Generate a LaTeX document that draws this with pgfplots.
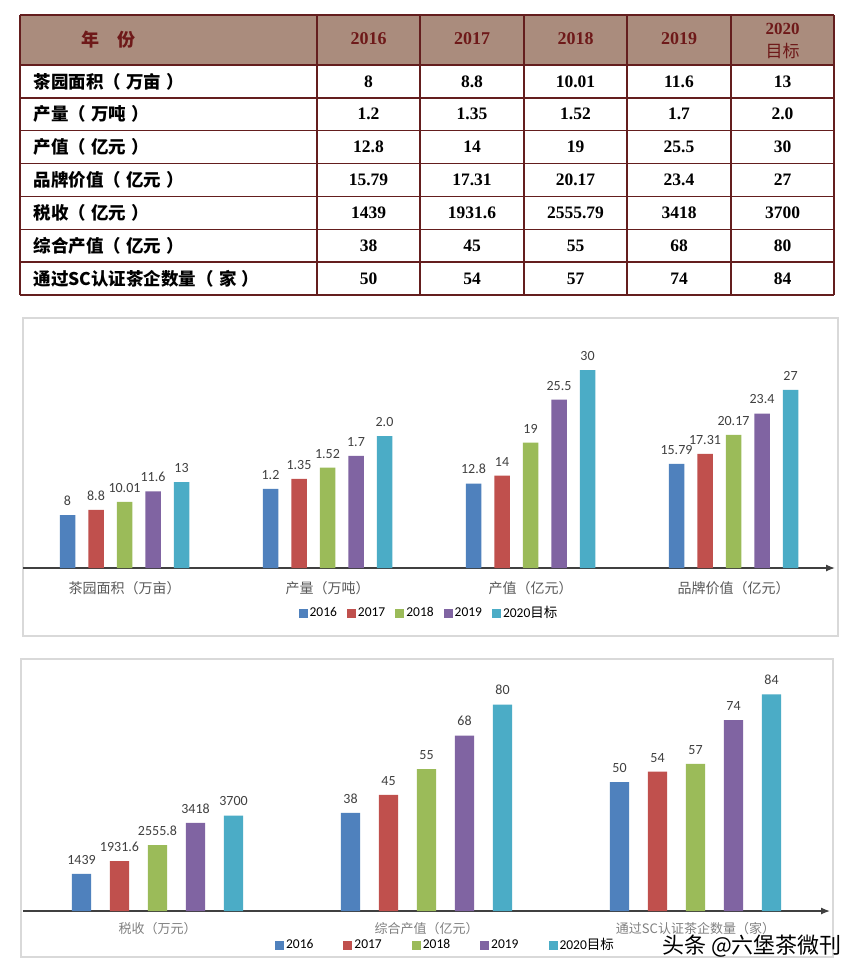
\documentclass[border=0pt]{standalone}
\usepackage{pgfplots}
\pgfplotsset{compat=1.18}
\usepackage{pgfplotstable}
\usetikzlibrary{arrows.meta}
\usepackage{fontspec}
\setmainfont{Carlito}
\newfontfamily\cjk{Noto Sans CJK SC}
\newfontfamily\tnr{Liberation Serif}

\definecolor{c16}{HTML}{4F81BD}
\definecolor{c17}{HTML}{C0504D}
\definecolor{c18}{HTML}{9BBB59}
\definecolor{c19}{HTML}{8064A2}
\definecolor{c20}{HTML}{4BACC6}
\definecolor{headbg}{RGB}{170,140,125}
\definecolor{tline}{RGB}{100,30,30}
\definecolor{headtxt}{RGB}{110,25,25}
\definecolor{axgray}{HTML}{404040}
\definecolor{labgray}{HTML}{595959}
\definecolor{framegray}{HTML}{D9D9D9}

\newcommand{\pp}[1]{（\hspace{0.3em}#1\hspace{0.3em}）}

% values as in the charts; s = scale used for the bar height of that group
\pgfplotstableread{
x s a b c d e
0 1 8 8.8 10.01 11.6 13
1 10 1.2 1.35 1.52 1.7 2.0
2 1 12.8 14 19 25.5 30
3 1 15.79 17.31 20.17 23.4 27
}\chartone

\pgfplotstableread{
x s a b c d e
0 0.01 1439 1931.6 2555.8 3418 3700
1 1 38 45 55 68 80
2 1 50 54 57 74 84
}\charttwo

\pgfplotsset{
  sq/.style={legend image code/.code={\fill[##1] (0pt,-4.5pt) rectangle (9pt,4.5pt);}},
  teabar/.style={
    scale only axis, anchor=south west,
    ymin=0,
    axis y line=none, axis x line*=bottom,
    x axis line style={draw=axgray, line width=1.3pt, -{Latex[length=9pt,width=7pt]}},
    xtick={0,1,2,3},
    major tick length=0pt,
    xtick style={draw=none},
    xticklabel style={text=labgray},
    point meta=explicit symbolic,
    nodes near coords,
    every node near coord/.append style={font=\fontsize{14}{14}\selectfont, text=axgray, yshift=6pt},
    legend style={draw=none, fill=none, legend columns=-1,
      at={(0.5,0)}, anchor=center,
      /tikz/every even column/.append style={column sep=12pt}},
  }
}

\begin{document}
\begin{tikzpicture}[x=1pt,y=1pt]
\useasboundingbox (0,0) rectangle (860,-979);
\fill[white] (0,0) rectangle (860,-979);

% ---- table ----
\fill[headbg] (20,-15) rectangle (834,-65);
\foreach \yy in {15,65,97.86,130.71,163.57,196.43,229.29,262.14,295}
  \draw[tline, line width=1.5pt] (20,-\yy) -- (834,-\yy);
\foreach \xx in {20,317,420,524,627,731,834}
  \draw[tline, line width=1.5pt] (\xx,-15) -- (\xx,-295);

\node[font=\cjk\bfseries\fontsize{18}{18}\selectfont, text=headtxt] at (108,-40) {年\hspace{1em}份};
\foreach \lab/\xx in {2016/368.5,2017/472,2018/575.5,2019/679}
  \node[font=\tnr\bfseries\fontsize{18}{18}\selectfont, text=headtxt] at (\xx,-39) {\lab};
\node[font=\tnr\bfseries\fontsize{17}{17}\selectfont, text=headtxt] at (782.5,-29) {2020};
\node[font=\cjk\fontsize{17}{17}\selectfont, text=headtxt] at (782.5,-51) {目标};

\foreach \lab/\a/\b/\c/\d/\e [count=\i] in {
  茶园面积\pp{万亩}/8/8.8/10.01/11.6/13,
  产量\pp{万吨}/1.2/1.35/1.52/1.7/2.0,
  产值\pp{亿元}/12.8/14/19/25.5/30,
  品牌价值\pp{亿元}/15.79/17.31/20.17/23.4/27,
  税收\pp{亿元}/1439/1931.6/2555.79/3418/3700,
  综合产值\pp{亿元}/38/45/55/68/80,
  通过SC认证茶企数量\pp{家}/50/54/57/74/84}{
  \pgfmathsetmacro{\yc}{65+(\i-0.5)*32.857}
  \node[anchor=west, font=\cjk\bfseries\fontsize{17.5}{17.5}\selectfont] at (30,-\yc) {\lab};
  \node[font=\tnr\bfseries\fontsize{17.5}{17.5}\selectfont] at (368.5,-\yc) {\a};
  \node[font=\tnr\bfseries\fontsize{17.5}{17.5}\selectfont] at (472,-\yc) {\b};
  \node[font=\tnr\bfseries\fontsize{17.5}{17.5}\selectfont] at (575.5,-\yc) {\c};
  \node[font=\tnr\bfseries\fontsize{17.5}{17.5}\selectfont] at (679,-\yc) {\d};
  \node[font=\tnr\bfseries\fontsize{17.5}{17.5}\selectfont] at (782.5,-\yc) {\e};
}

% ---- chart 1 ----
\draw[framegray, line width=1.2pt] (23,-318) rectangle (838,-636);
\begin{axis}[teabar,
  at={(23pt,-568pt)},
  width=812pt, height=238pt,
  xmin=-0.5, xmax=3.5, ymax=36.06,
  ybar=13pt, bar width=15.5pt,
  xticklabels={茶园面积（万亩）,产量（万吨）,产值（亿元）,品牌价值（亿元）},
  xticklabel style={font=\cjk\fontsize{14}{14}\selectfont, yshift=-10pt},
  legend style={yshift=-45pt, font=\fontsize{13.5}{13.5}\selectfont,
    /tikz/every even column/.append style={column sep=8pt}},
]
\addplot[fill=c16, draw=none, sq] table[x=x, y expr=\thisrow{a}*\thisrow{s}, meta=a] {\chartone};
\addplot[fill=c17, draw=none, sq] table[x=x, y expr=\thisrow{b}*\thisrow{s}, meta=b] {\chartone};
\addplot[fill=c18, draw=none, sq] table[x=x, y expr=\thisrow{c}*\thisrow{s}, meta=c] {\chartone};
\addplot[fill=c19, draw=none, sq] table[x=x, y expr=\thisrow{d}*\thisrow{s}, meta=d] {\chartone};
\addplot[fill=c20, draw=none, sq] table[x=x, y expr=\thisrow{e}*\thisrow{s}, meta=e] {\chartone};
\legend{2016,2017,2018,2019,2020{\cjk 目标}}
\end{axis}

% ---- chart 2 ----
\draw[framegray, line width=1.2pt] (21,-659) rectangle (833,-957);
\begin{axis}[teabar,
  at={(23pt,-911pt)},
  width=807pt, height=241pt,
  xmin=-0.5, xmax=2.5, ymax=93.41,
  xtick={0,1,2},
  ybar=18.7pt, bar width=19.3pt,
  xticklabels={税收（万元）,综合产值（亿元）,通过SC认证茶企数量（家）},
  xticklabel style={font=\cjk\fontsize{13}{13}\selectfont, yshift=-8pt, text=gray},
  legend style={yshift=-34pt, xshift=19pt, font=\fontsize{13.5}{13.5}\selectfont,
    /tikz/every even column/.append style={column sep=28pt}},
]
\addplot[fill=c16, draw=none, sq] table[x=x, y expr=\thisrow{a}*\thisrow{s}, meta=a] {\charttwo};
\addplot[fill=c17, draw=none, sq] table[x=x, y expr=\thisrow{b}*\thisrow{s}, meta=b] {\charttwo};
\addplot[fill=c18, draw=none, sq] table[x=x, y expr=\thisrow{c}*\thisrow{s}, meta=c] {\charttwo};
\addplot[fill=c19, draw=none, sq] table[x=x, y expr=\thisrow{d}*\thisrow{s}, meta=d] {\charttwo};
\addplot[fill=c20, draw=none, sq] table[x=x, y expr=\thisrow{e}*\thisrow{s}, meta=e] {\charttwo};
\legend{2016,2017,2018,2019,2020{\cjk 目标}}
\end{axis}

\node[font=\cjk\fontsize{22}{22}\selectfont] at (752,-946) {头条 @六堡茶微刊};
\end{tikzpicture}
\end{document}
